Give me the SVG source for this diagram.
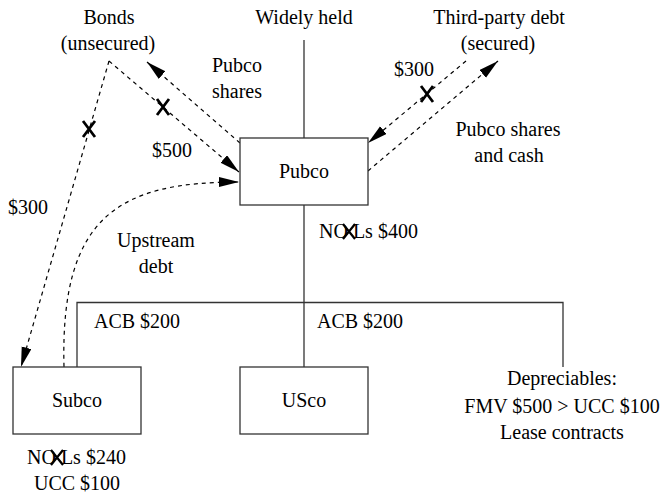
<svg xmlns="http://www.w3.org/2000/svg" width="671" height="495" viewBox="0 0 671 495" font-family="Liberation Serif, serif" font-size="20">
<defs>
<style>
.m{text-anchor:middle}
.box{fill:#fff;stroke:#333;stroke-width:1.3}
.solid{fill:none;stroke:#333;stroke-width:1.3}
.dash{fill:none;stroke:#000;stroke-width:1.2;stroke-dasharray:4 4}
.x{stroke:#000;stroke-width:2.8;fill:none}
.xt{stroke:#000;stroke-width:2.2;fill:none}
</style>
<marker id="ah" markerUnits="userSpaceOnUse" markerWidth="22" markerHeight="12" refX="20" refY="5" orient="auto">
<path d="M0,0 L20,5 L0,10 z" fill="#000"/>
</marker>
</defs>
<rect width="671" height="495" fill="#fff"/>
<g id="connectors">
<line class="solid" x1="304" y1="40" x2="304" y2="138"/>
<line class="solid" x1="304" y1="205" x2="304" y2="367"/>
<polyline class="solid" points="77,367 77,302.5 563,302.5 563,367"/>
<line class="dash" x1="109" y1="61" x2="239" y2="172" marker-end="url(#ah)"/>
<line class="dash" x1="240" y1="143" x2="147" y2="62" marker-end="url(#ah)"/>
<line class="dash" x1="109" y1="61" x2="21" y2="367" marker-end="url(#ah)"/>
<path class="dash" d="M64,367 C60,215 120,182 239,182" marker-end="url(#ah)"/>
<line class="dash" x1="466" y1="61" x2="368" y2="143" marker-end="url(#ah)"/>
<line class="dash" x1="368" y1="171" x2="498" y2="61" marker-end="url(#ah)"/>
<path class="x" d="M157,99 L169,115 M169,99 L157,115"/>
<path class="x" d="M83,121 L95,137 M95,121 L83,137"/>
<path class="x" d="M421,86 L433,102 M433,86 L421,102"/>
</g>
<g id="labels" font-family="Liberation Serif, serif" font-size="20" fill="#000">
<text class="m" x="304" y="24">Widely held</text>
<text class="m" x="109" y="24">Bonds</text>
<text class="m" x="108" y="50">(unsecured)</text>
<text class="m" x="499" y="24">Third-party debt</text>
<text class="m" x="498" y="50">(secured)</text>
<text class="m" x="237" y="72">Pubco</text>
<text class="m" x="237" y="98">shares</text>
<text class="m" x="172" y="157">$500</text>
<text class="m" x="414" y="76">$300</text>
<text class="m" x="508" y="136">Pubco shares</text>
<text class="m" x="509" y="162">and cash</text>
<text class="m" x="28" y="214">$300</text>
<text class="m" x="156" y="247">Upstream</text>
<text class="m" x="156" y="273">debt</text>
<text x="319" y="238">NO<tspan dx="5">Ls $400</tspan></text>
<path class="xt" d="M343,224 L355,239 M355,224 L343,239"/>
<text x="94" y="328">ACB $200</text>
<text x="317" y="328">ACB $200</text>
<text class="m" x="562" y="385">Depreciables:</text>
<text class="m" x="562" y="413">FMV $500 &gt; UCC $100</text>
<text class="m" x="562" y="439">Lease contracts</text>
<text x="27" y="464">NO<tspan dx="5">Ls $240</tspan></text>
<path class="xt" d="M51,450 L63,465 M63,450 L51,465"/>
<text class="m" x="77" y="490">UCC $100</text>
</g>
<g id="pubco" font-family="Liberation Serif, serif" font-size="20">
<rect class="box" x="240" y="138" width="128" height="67"/>
<text class="m" x="304" y="178">Pubco</text>
</g>
<g id="subco" font-family="Liberation Serif, serif" font-size="20">
<rect class="box" x="13" y="367" width="128" height="67"/>
<text class="m" x="77" y="407">Subco</text>
</g>
<g id="usco" font-family="Liberation Serif, serif" font-size="20">
<rect class="box" x="240" y="367" width="128" height="67"/>
<text class="m" x="304" y="407">USco</text>
</g>
</svg>
